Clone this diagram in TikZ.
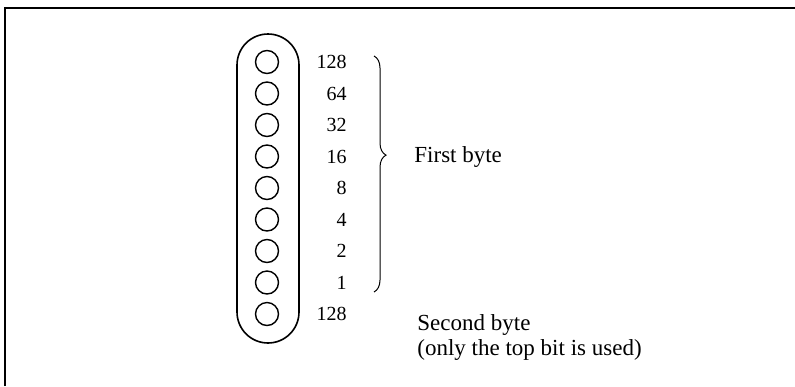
\documentclass[tikz,border=0pt]{standalone}
\usepackage{fontspec}
\setmainfont{Liberation Serif}
\usetikzlibrary{positioning,decorations.pathreplacing}

\begin{document}
\begin{tikzpicture}[
    x=0.5pt, y=-0.5pt,
    hole/.style={draw, circle, line width=0.7pt, minimum size=11.5pt, inner sep=0pt},
    weight/.style={anchor=east, inner sep=0pt, font=\fontsize{10}{12}\selectfont},
    note/.style={anchor=west, align=left, inner sep=0pt, font=\fontsize{11.5}{12.5}\selectfont}
]
\useasboundingbox (0,0) rectangle (795,386);
\draw[line width=0.8pt] (5,386) -- (5,8) -- (795,8);
% paper tape strip with its holes
\draw[line width=0.8pt, rounded corners=15.5pt] (237,34) rectangle (299,343);
\foreach \v [count=\i] in {128,64,32,16,8,4,2,1,128} {
  \node[hole] (h\i) at (267,{62+31.5*(\i-1)}) {};
  \node[weight] (w\i) at (347,{62+31.5*(\i-1)}) {\v};
}
\coordinate (btop) at (374,56);
\coordinate (bbot) at (374,292);
\draw[line width=0.5pt, decorate, decoration={brace, amplitude=6pt, aspect=0.42}] (btop) -- (bbot);
\node[note] (first) at (414,157) {First byte};
\node[note] (second) at (417,337) {Second byte\\(only the top bit is used)};
\end{tikzpicture}
\end{document}
